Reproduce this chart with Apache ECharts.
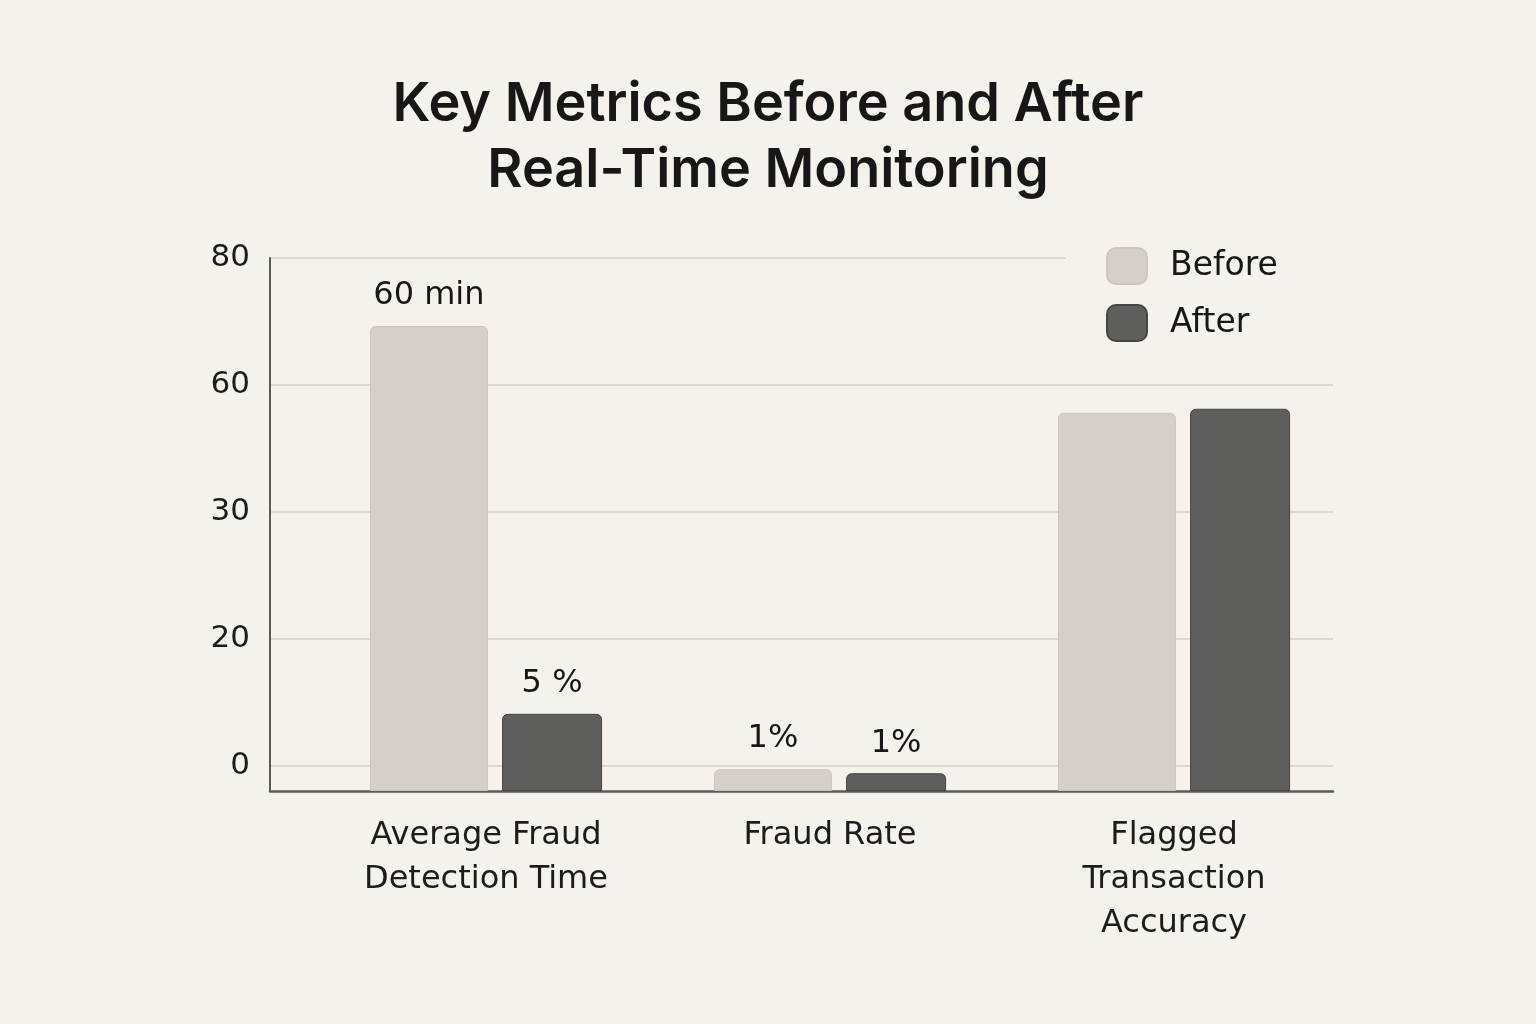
<!DOCTYPE html>
<html>
<head>
<meta charset="utf-8">
<script src="https://cdn.jsdelivr.net/npm/echarts@6/dist/echarts.min.js"></script>
<style>
html,body{margin:0;padding:0;background:#f5f1ec;}
#chart{width:1536px;height:1024px;}
</style>
</head>
<body>
<div id="chart"></div>
<script>
// Categories
const categories = ['Average Fraud\nDetection Time', 'Fraud Rate', 'Flagged\nTransaction\nAccuracy'];
// Bar heights in plotted axis units (gridlines sit at 5, 30, 55, 80, 105)
const beforeValues = [91.6, 4.3, 74.5];
const afterValues = [15.2, 3.5, 75.3];
// Value label texts shown above the bars
const beforeLabels = ['60 min', '1%', ''];
const afterLabels = ['5 %', '1%', ''];
// Y tick positions and their printed labels
const tickValues = [5, 30, 55, 80, 105];
const tickLabels = ['0', '20', '30', '60', '80'];

const TITLE_FONT = 'Inter, "Liberation Sans", Arial, sans-serif';
const FONT = '"DejaVu Sans", Inter, sans-serif';
const chart = echarts.init(document.getElementById('chart'));
chart.setOption({
  backgroundColor: '#f5f1ec',
  animation: false,
  title: {
    text: 'Key Metrics Before and After\nReal-Time Monitoring',
    left: 'center',
    top: 67,
    textStyle: {fontFamily: TITLE_FONT, fontSize: 54, fontWeight: 600, lineHeight: 66, color: '#171717'}
  },
  legend: {
    orient: 'vertical',
    left: 1066,
    top: 242,
    padding: [5, 80, 5, 40],
    backgroundColor: '#f5f1ec',
    icon: 'roundRect',
    itemWidth: 40,
    itemHeight: 36,
    itemGap: 19,
    textStyle: {fontFamily: FONT, fontSize: 33, lineHeight: 36, color: '#171717', padding: [0, 0, 0, 18]},
    data: ['Before', 'After']
  },
  grid: [
    {left: 270, right: 203, top: 258, bottom: 233},
    {left: 314, right: 190, top: 258, bottom: 233}
  ],
  xAxis: [
    {gridIndex: 0, type: 'value', min: 0, max: 1,
     axisLine: {show: true, onZero: false, lineStyle: {color: '#5c5a57', width: 2.5}},
     axisTick: {show: false}, axisLabel: {show: false}, splitLine: {show: false}},
    {gridIndex: 1, type: 'category', data: categories,
     axisLine: {show: false}, axisTick: {show: false},
     axisLabel: {interval: 0, margin: 23, fontFamily: FONT, fontSize: 32, lineHeight: 44, color: '#1c1c1c', align: 'center'}}
  ],
  yAxis: [
    {gridIndex: 0, type: 'value', min: 0, max: 105,
     axisLine: {show: true, lineStyle: {color: '#5c5a57', width: 2}},
     axisTick: {show: false, customValues: tickValues},
     axisLabel: {customValues: tickValues, margin: 20, fontFamily: FONT, fontSize: 31, color: '#1c1c1c',
       formatter: function (v) { const i = tickValues.indexOf(v); return i >= 0 ? tickLabels[i] : ''; }},
     splitLine: {show: true, lineStyle: {color: '#dcd7d1', width: 2}}},
    {gridIndex: 1, type: 'value', min: 0, max: 105, show: false, splitLine: {show: false}}
  ],
  series: [
    {name: 'Before', type: 'bar', xAxisIndex: 1, yAxisIndex: 1, data: beforeValues,
     barWidth: 118, barGap: '12%',
     itemStyle: {color: '#d4cfc9', borderRadius: [5, 5, 0, 0], borderColor: '#cbc6c0', borderWidth: 1},
     label: {show: true, position: 'top', distance: 14, fontFamily: FONT, fontSize: 32, color: '#171717',
       formatter: function (p) { return beforeLabels[p.dataIndex]; }}},
    {name: 'After', type: 'bar', xAxisIndex: 1, yAxisIndex: 1, data: afterValues,
     barWidth: 100,
     itemStyle: {color: '#5e5f5d', borderRadius: [5, 5, 0, 0], borderColor: '#454644', borderWidth: 1},
     label: {show: true, position: 'top', distance: 14, fontFamily: FONT, fontSize: 32, color: '#171717',
       formatter: function (p) { return afterLabels[p.dataIndex]; }}}
  ]
});
</script>
</body>
</html>
